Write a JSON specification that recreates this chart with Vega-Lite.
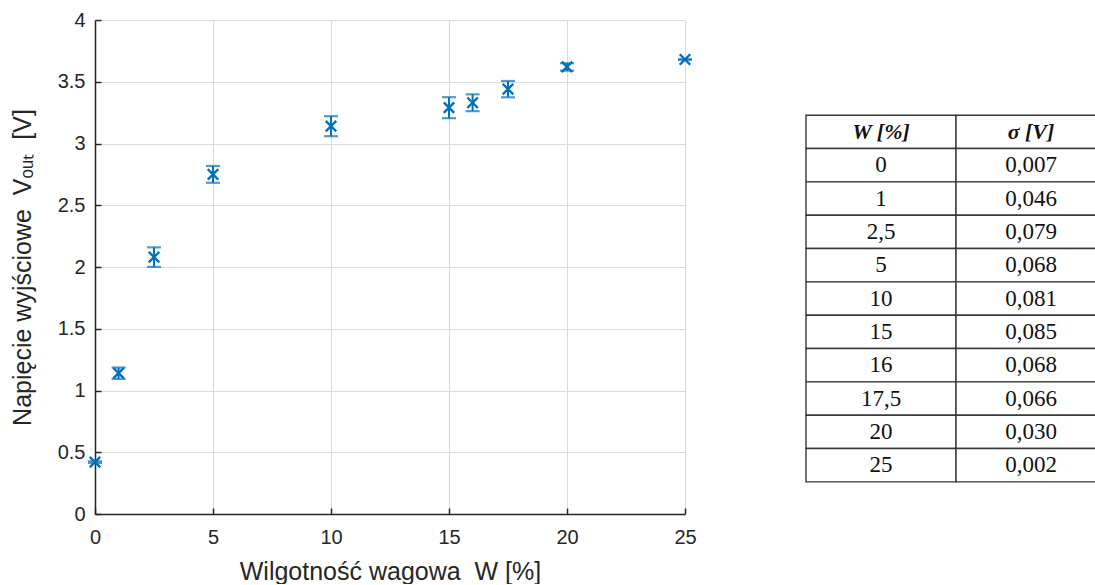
{
  "$schema": "https://vega.github.io/schema/vega-lite/v6.json",
  "background": "white",
  "padding": {"left": 10, "top": 10, "right": 0, "bottom": 0},
  "bounds": "flush",
  "spacing": 121,
  "config": {"view": {"stroke": null}, "font": "Liberation Sans"},
  "datasets": {
    "meas": [
      {"W": 0, "V": 0.42, "sigma": 0.007},
      {"W": 1, "V": 1.14, "sigma": 0.046},
      {"W": 2.5, "V": 2.08, "sigma": 0.079},
      {"W": 5, "V": 2.75, "sigma": 0.068},
      {"W": 10, "V": 3.14, "sigma": 0.081},
      {"W": 15, "V": 3.29, "sigma": 0.085},
      {"W": 16, "V": 3.33, "sigma": 0.068},
      {"W": 17.5, "V": 3.44, "sigma": 0.066},
      {"W": 20, "V": 3.62, "sigma": 0.030},
      {"W": 25, "V": 3.68, "sigma": 0.002}
    ],
    "table": [
      {"row": 0, "w": "W [%]", "s": "σ [V]"},
      {"row": 1, "w": "0", "s": "0,007"},
      {"row": 2, "w": "1", "s": "0,046"},
      {"row": 3, "w": "2,5", "s": "0,079"},
      {"row": 4, "w": "5", "s": "0,068"},
      {"row": 5, "w": "10", "s": "0,081"},
      {"row": 6, "w": "15", "s": "0,085"},
      {"row": 7, "w": "16", "s": "0,068"},
      {"row": 8, "w": "17,5", "s": "0,066"},
      {"row": 9, "w": "20", "s": "0,030"},
      {"row": 10, "w": "25", "s": "0,002"}
    ]
  },
  "hconcat": [
    {
      "width": 590,
      "height": 494,
      "data": {"name": "meas"},
      "encoding": {
        "x": {
          "field": "W", "type": "quantitative",
          "scale": {"domain": [0, 25], "nice": false, "zero": false},
          "axis": {
            "values": [0, 5, 10, 15, 20, 25],
            "format": "~g",
            "grid": true, "gridColor": "#dadada", "gridWidth": 1,
            "domainColor": "#262626", "domainWidth": 1.5,
            "tickColor": "#262626", "tickWidth": 1.5, "tickSize": -6,
            "labelFont": "Liberation Sans", "labelFontSize": 20, "labelColor": "#262626", "labelPadding": 19,
            "labelFlush": false, "labelOverlap": false,
            "title": "Wilgotność wagowa\u00a0 W [%]",
            "titleFont": "Liberation Sans", "titleFontSize": 25, "titleFontWeight": "normal", "titleColor": "#262626",
            "titlePadding": 12
          }
        },
        "y": {
          "field": "V", "type": "quantitative",
          "scale": {"domain": [0, 4], "nice": false, "zero": false},
          "axis": {
            "values": [0, 0.5, 1, 1.5, 2, 2.5, 3, 3.5, 4],
            "format": "~g",
            "grid": true, "gridColor": "#dadada", "gridWidth": 1,
            "domainColor": "#262626", "domainWidth": 1.5,
            "tickColor": "#262626", "tickWidth": 1.5, "tickSize": -6,
            "labelFont": "Liberation Sans", "labelFontSize": 20, "labelColor": "#262626", "labelPadding": 16,
            "labelFlush": false, "labelOverlap": false,
            "title": "Napięcie wyjściowe\u00a0 Vₒᵤₜ\u00a0 [V]",
            "titleFont": "Liberation Sans", "titleFontSize": 25, "titleFontWeight": "normal", "titleColor": "#262626",
            "titlePadding": 22
          }
        }
      },
      "layer": [
        {
          "mark": {
            "type": "errorbar",
            "color": "#0072BD",
            "thickness": 2,
            "ticks": {"size": 14, "thickness": 2.2, "color": "#0072BD"}
          },
          "encoding": {
            "yError": {"field": "sigma"}
          }
        },
        {
          "mark": {
            "type": "point",
            "shape": "M-1,-1L1,1M1,-1L-1,1",
            "size": 110,
            "strokeWidth": 2.4,
            "color": "#0072BD",
            "filled": false,
            "opacity": 1
          }
        }
      ]
    },
    {
      "width": 300,
      "height": 494,
      "data": {"name": "table"},
      "transform": [{"fold": ["w", "s"], "as": ["col", "txt"]}],
      "encoding": {
        "x": {
          "field": "col", "type": "nominal",
          "scale": {"domain": ["w", "s"], "paddingInner": 0, "paddingOuter": 0},
          "axis": null
        },
        "y": {
          "field": "row", "type": "ordinal",
          "scale": {"domain": [-2, -1, 0, 1, 2, 3, 4, 5, 6, 7, 8, 9, 10], "paddingInner": 0, "paddingOuter": 0.91, "align": 0.47},
          "axis": null
        }
      },
      "layer": [
        {"mark": {"type": "rect", "fill": "white", "stroke": "#383838", "strokeWidth": 1.4}},
        {
          "transform": [{"filter": "datum.row > 0"}],
          "mark": {"type": "text", "font": "Liberation Serif", "fontSize": 23, "color": "#111111", "baseline": "middle"},
          "encoding": {"text": {"field": "txt"}}
        },
        {
          "transform": [{"filter": "datum.row == 0"}],
          "mark": {"type": "text", "font": "Liberation Serif", "fontSize": 22, "fontWeight": "bold", "fontStyle": "italic", "color": "#111111", "baseline": "middle"},
          "encoding": {"text": {"field": "txt"}}
        }
      ]
    }
  ]
}
